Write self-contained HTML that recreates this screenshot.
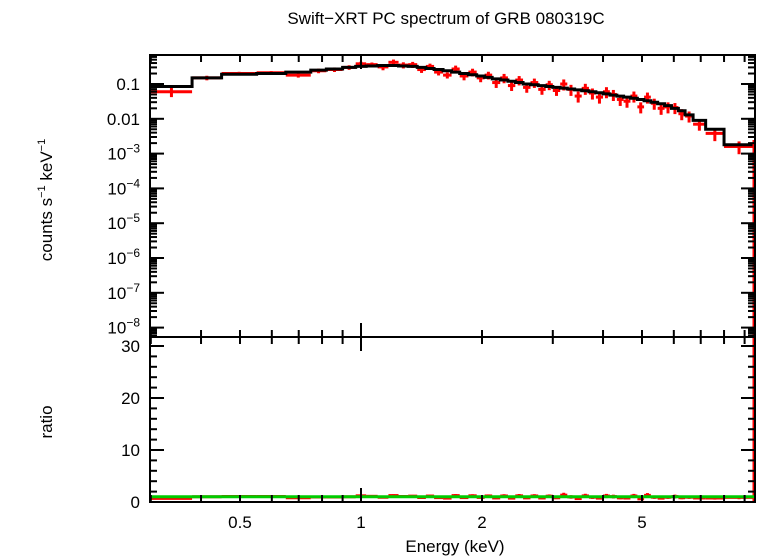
<!DOCTYPE html>
<html><head><meta charset="utf-8"><style>
body{margin:0;background:#fff}
svg{display:block;font-family:"Liberation Sans",sans-serif}
</style></head><body>
<svg id="c" width="758" height="556"></svg>
<script>
const edges=[0.3,0.38,0.45,0.55,0.65,0.75,0.82,0.9,0.97,1.03,1.1,1.17,1.24,1.31,1.38,1.45,1.52,1.6,1.68,1.76,1.85,1.94,2.03,2.12,2.22,2.32,2.42,2.53,2.64,2.76,2.88,3.0,3.13,3.26,3.4,3.54,3.69,3.84,4.0,4.16,4.33,4.5,4.68,4.87,5.06,5.26,5.47,5.69,5.92,6.16,6.4,6.7,7.2,8.0,9.5];
const modelVals=[0.085,0.15,0.19,0.2,0.22,0.25,0.27,0.3,0.32,0.33,0.34,0.34,0.33,0.32,0.3,0.28,0.26,0.24,0.22,0.2,0.185,0.17,0.155,0.14,0.13,0.12,0.11,0.1,0.095,0.09,0.085,0.08,0.076,0.072,0.068,0.064,0.06,0.056,0.052,0.048,0.045,0.042,0.039,0.036,0.033,0.03,0.027,0.024,0.02,0.017,0.013,0.009,0.005,0.0018];
const dataVals=[0.06,0.15,0.2,0.21,0.18,0.24,0.26,0.3,0.38,0.36,0.31,0.42,0.35,0.36,0.26,0.32,0.22,0.18,0.27,0.17,0.22,0.15,0.18,0.11,0.15,0.09,0.13,0.08,0.11,0.07,0.095,0.065,0.1,0.07,0.045,0.075,0.055,0.042,0.06,0.05,0.036,0.032,0.045,0.022,0.042,0.028,0.02,0.022,0.021,0.014,0.012,0.007,0.0038,0.0016];
const errFrac=[0.3,0.15,0.12,0.12,0.15,0.15,0.15,0.15,0.15,0.15,0.2,0.2,0.2,0.2,0.2,0.2,0.2,0.2,0.25,0.25,0.25,0.25,0.25,0.3,0.3,0.3,0.3,0.3,0.3,0.3,0.3,0.3,0.35,0.35,0.35,0.35,0.35,0.35,0.35,0.35,0.35,0.35,0.35,0.35,0.35,0.35,0.35,0.35,0.35,0.35,0.35,0.35,0.4,0.4];
const xTickLabels=[0.5,1,2,5];
const yTickExps=[-1,-2,-3,-4,-5,-6,-7,-8];
const ratioTicks=[0,10,20,30];

const NS="http://www.w3.org/2000/svg",svg=document.getElementById('c');
const X0=150,X1=755,T0=55,T1=337,B1=502;
const px=e=>361+402*Math.log10(e);
const py=v=>84-34.8*(Math.log10(v)+1);
const ry=r=>502-5.2*r;
function mk(tag,at,name,txt){const el=document.createElementNS(NS,tag);for(const k in at)el.setAttribute(k,at[k]);


if(txt!==undefined)el.textContent=txt;svg.appendChild(el);return el;}
const clamp=(y,a,b)=>Math.max(a,Math.min(b,y));
for(let i=0;i<dataVals.length;i++){
 const xa=px(edges[i]),xb=px(edges[i+1]),xm=px(Math.sqrt(edges[i]*edges[i+1])),y=py(dataVals[i]);
 const e=errFrac[i]*dataVals[i];
 mk('line',{x1:xa,x2:xb,y1:y,y2:y,stroke:'#f00','stroke-width':3},'data-point-xerr');
 mk('line',{x1:xm,x2:xm,y1:clamp(py(dataVals[i]+e),T0,T1),y2:clamp(py(dataVals[i]-e),T0,T1),stroke:'#f00','stroke-width':3},'data-point-yerr');
 const r=dataVals[i]/modelVals[i];
 mk('line',{x1:xa,x2:xb,y1:ry(r),y2:ry(r),stroke:'#f00','stroke-width':3},'ratio-point-xerr');
 mk('line',{x1:xm,x2:xm,y1:ry(r*(1+errFrac[i])),y2:ry(r*(1-errFrac[i])),stroke:'#f00','stroke-width':3},'ratio-point-yerr');
}
let d='';for(let i=0;i<modelVals.length;i++){const y=py(modelVals[i]);d+=(i?'L':'M')+px(edges[i])+' '+y+'L'+px(edges[i+1])+' '+y;}
mk('path',{d:d,fill:'none',stroke:'#000','stroke-width':3},'model-line');
mk('line',{x1:754,x2:754,y1:140,y2:B1,stroke:'#f00','stroke-width':3},'last-bin-error');
mk('line',{x1:X0,x2:X1,y1:ry(1),y2:ry(1),stroke:'#0c0','stroke-width':3},'ratio-unity-line');
mk('rect',{x:X0,y:T0,width:X1-X0,height:T1-T0,fill:'none',stroke:'#000','stroke-width':2},'top-panel-frame');
mk('rect',{x:X0,y:T1,width:X1-X0,height:B1-T1,fill:'none',stroke:'#000','stroke-width':2},'bottom-panel-frame');
for(let dec of [0.1,1]){for(let k=1;k<=9;k++){const e=k*dec;if(e<0.3||e>9.5)continue;const x=px(e),L=(k==1)?14:7;
 for(const [a,b] of [[T0,1],[T1,-1],[T1,1],[B1,-1]]) mk('line',{x1:x,x2:x,y1:a,y2:a+b*L,stroke:'#000','stroke-width':2},'x-tick');}}
xTickLabels.forEach(v=>mk('text',{x:px(v),y:528,'font-size':17,'text-anchor':'middle'},'x-tick-label',String(v)));
for(let ex=-9;ex<=0;ex++){for(let k=1;k<=9;k++){const v=k*Math.pow(10,ex),y=py(v);if(y<T0||y>T1)continue;const L=k==1?14:7;
 mk('line',{x1:X0,x2:X0+L,y1:y,y2:y,stroke:'#000','stroke-width':2},'y-tick');
 mk('line',{x1:X1,x2:X1-L,y1:y,y2:y,stroke:'#000','stroke-width':2},'y-tick');}}
yTickExps.forEach(ex=>{const y=py(Math.pow(10,ex))+6;const t=mk('text',{x:140,y:y,'font-size':17,'text-anchor':'end'},'y-tick-label');
 if(ex==-1)t.textContent='0.1';else if(ex==-2)t.textContent='0.01';else{t.textContent='10';const s=document.createElementNS(NS,'tspan');s.setAttribute('font-size',12);s.setAttribute('dy',-7);s.textContent='\u2212'+(-ex);t.appendChild(s);}});
for(let r=0;r<=31;r+=2){const y=ry(r),L=r%10==0?14:7;
 mk('line',{x1:X0,x2:X0+L,y1:y,y2:y,stroke:'#000','stroke-width':2},'ratio-tick');
 mk('line',{x1:X1,x2:X1-L,y1:y,y2:y,stroke:'#000','stroke-width':2},'ratio-tick');}
ratioTicks.forEach(r=>mk('text',{x:140,y:ry(r)+6,'font-size':17,'text-anchor':'end'},'ratio-tick-label',String(r)));
mk('text',{x:446,y:24,'font-size':17,'text-anchor':'middle'},'chart-title','Swift\u2212XRT PC spectrum of GRB 080319C');
mk('text',{x:455,y:552,'font-size':17,'text-anchor':'middle'},'x-axis-title','Energy (keV)');
const yt=mk('text',{x:0,y:0,'font-size':17,'text-anchor':'middle',transform:'translate(52,200) rotate(-90)'},'y-axis-title','counts s');
[['\u22121',-7,11],[' keV',7,17],['\u22121',-7,11]].forEach(([t,dy,fs])=>{const s=document.createElementNS(NS,'tspan');s.setAttribute('dy',dy);s.setAttribute('font-size',fs);s.textContent=t;yt.appendChild(s);});
mk('text',{x:0,y:0,'font-size':17,'text-anchor':'middle',transform:'translate(52,422) rotate(-90)'},'ratio-axis-title','ratio');
</script>
</body></html>
